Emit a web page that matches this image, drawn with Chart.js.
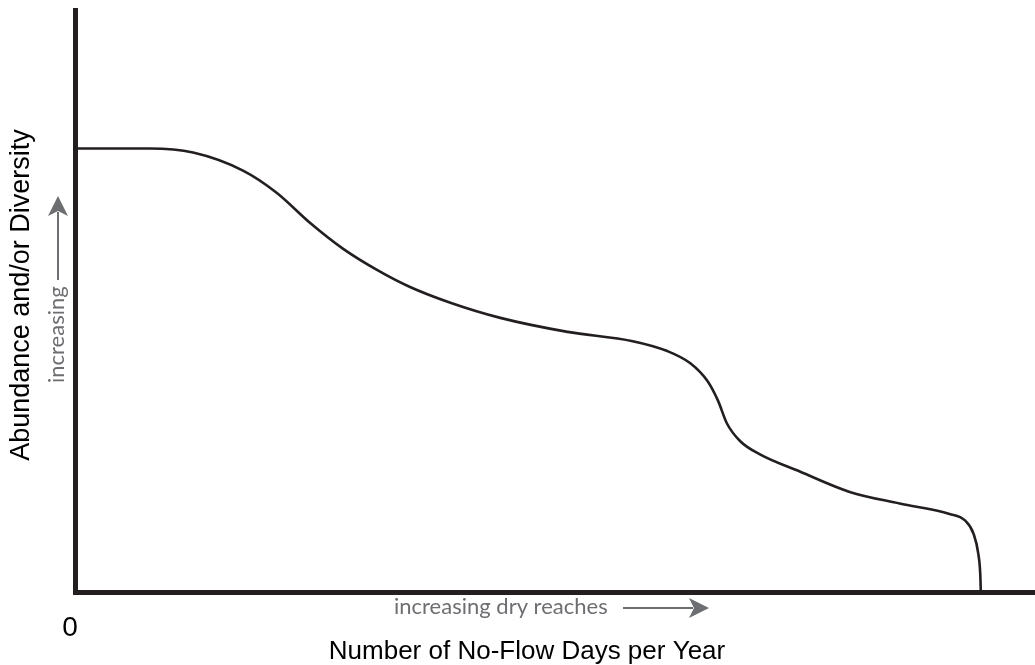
<!DOCTYPE html>
<html lang="en">
<head>
  <meta charset="UTF-8" />
  <title>Abundance vs No-Flow Days</title>
  <script src="https://cdn.jsdelivr.net/npm/chart.js"></script>
  <style>
    html, body { margin: 0; padding: 0; background: #fff; }
    #wrap { width: 1035px; height: 665px; }
  </style>
</head>
<body>
<div id="wrap"><canvas id="chartCanvas" width="1035" height="665"></canvas></div>

<script>
// curve (relative units, 0-100 on both axes)
const noFlowDays = [0, 7.8, 12.3, 17.5, 21.0, 24.5, 27.9, 31.5, 34.9, 39.1, 44.3, 51.3, 58.1,
  61.7, 64.1, 65.9, 67.0, 67.9, 69.3, 71.4, 75.5, 80.7, 85.9, 91.1, 92.7, 93.6, 94.1, 94.3, 94.35];
const abundance = [76.2, 76.2, 75.5, 72.4, 68.6, 63.4, 59.0, 55.3, 52.4, 49.7, 47.1, 44.7, 43.1,
  41.4, 39.3, 36.2, 32.8, 29.0, 25.9, 23.6, 20.7, 17.2, 15.2, 13.4, 12.3, 10.0, 6.5, 3.0, 0.3];

const xTitle = 'Number of No-Flow Days per Year';
const yTitle = 'Abundance and/or Diversity';
const xHint = 'increasing dry reaches';
const yHint = 'increasing';
const xZero = '0';

const ink = '#231f20';
const grey = '#6d6e71';

const points = noFlowDays.map((d, i) => ({ x: d, y: abundance[i] }));

function arrow(ctx, x1, y1, x2, y2) {
  const ang = Math.atan2(y2 - y1, x2 - x1);
  const len = 20, half = 10;
  const bx = x2 - len * Math.cos(ang), by = y2 - len * Math.sin(ang);
  ctx.strokeStyle = grey;
  ctx.fillStyle = grey;
  ctx.lineWidth = 2;
  ctx.beginPath();
  ctx.moveTo(x1, y1);
  ctx.lineTo(bx + 4 * Math.cos(ang), by + 4 * Math.sin(ang));
  ctx.stroke();
  ctx.beginPath();
  ctx.moveTo(x2, y2);
  ctx.lineTo(bx - half * Math.sin(ang), by + half * Math.cos(ang));
  ctx.lineTo(bx + 5 * Math.cos(ang), by + 5 * Math.sin(ang));
  ctx.lineTo(bx + half * Math.sin(ang), by - half * Math.cos(ang));
  ctx.closePath();
  ctx.fill();
}

// labels and the little "increasing" arrows
const labelsPlugin = {
  id: 'labels',
  afterDraw(chart) {
    const ctx = chart.ctx;
    const area = chart.chartArea;
    ctx.save();

    ctx.fillStyle = '#000';
    ctx.textAlign = 'center';
    ctx.textBaseline = 'alphabetic';
    ctx.font = '26px "Liberation Sans", Arial, sans-serif';
    ctx.fillText(xTitle, 527, 659);

    ctx.font = '28px "Liberation Sans", Arial, sans-serif';
    ctx.textBaseline = 'middle';
    ctx.fillText(xZero, area.left - 5, 628);

    ctx.save();
    ctx.translate(22, 295);
    ctx.rotate(-Math.PI / 2);
    ctx.font = '27px "Liberation Sans", Arial, sans-serif';
    ctx.fillText(yTitle, 0, 0);
    ctx.restore();

    ctx.fillStyle = grey;
    ctx.font = '22px Lato, "Open Sans", sans-serif';
    ctx.textAlign = 'left';
    ctx.fillText(xHint, 394, 607);
    arrow(ctx, 623, 608, 709, 608);

    ctx.save();
    ctx.translate(57, 383);
    ctx.rotate(-Math.PI / 2);
    ctx.fillStyle = grey;
    ctx.fillText(yHint, 0, 0);
    ctx.restore();
    arrow(ctx, 58, 280, 58, 196);

    ctx.restore();
  }
};

new Chart(document.getElementById('chartCanvas'), {
  type: 'line',
  data: {
    datasets: [{
      data: points,
      borderColor: ink,
      borderWidth: 2.6,
      pointRadius: 0,
      fill: false,
      cubicInterpolationMode: 'monotone'
    }]
  },
  options: {
    responsive: false,
    animation: false,
    layout: { padding: { left: 75, top: 10, right: 0, bottom: 73 } },
    plugins: { legend: { display: false }, tooltip: { enabled: false } },
    scales: {
      x: {
        type: 'linear', min: 0, max: 100,
        grid: { display: false, drawTicks: false },
        border: { display: true, color: ink, width: 5 },
        ticks: { display: false },
        afterFit: s => { s.height = 0; }
      },
      y: {
        type: 'linear', min: 0, max: 100,
        grid: { display: false, drawTicks: false },
        border: { display: true, color: ink, width: 5 },
        ticks: { display: false },
        afterFit: s => { s.width = 0; }
      }
    }
  },
  plugins: [labelsPlugin]
});
</script>
</body>
</html>
